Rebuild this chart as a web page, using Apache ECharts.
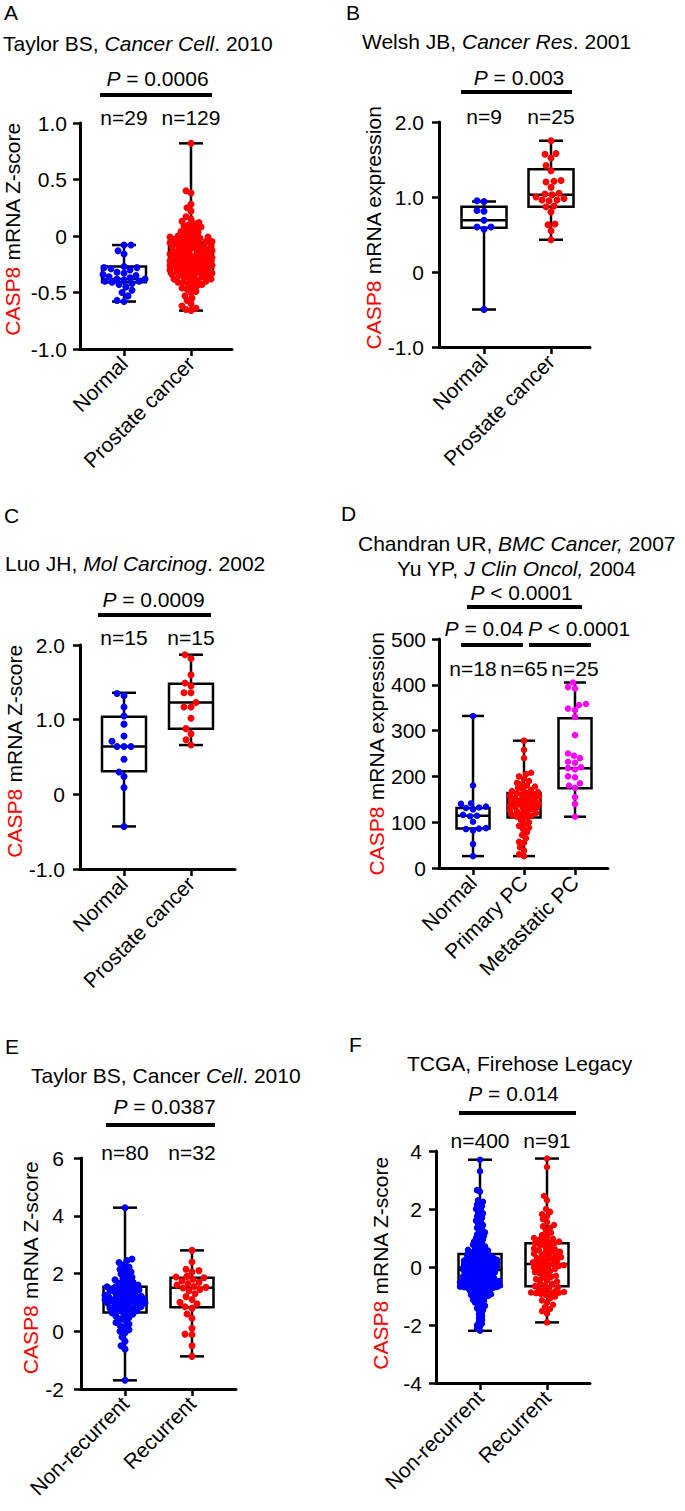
<!DOCTYPE html>
<html><head><meta charset="utf-8">
<script src="https://cdn.jsdelivr.net/npm/echarts@6/dist/echarts.min.js"></script>
<style>html,body{margin:0;padding:0;background:#fff}#c{width:685px;height:1511px}</style>
</head><body><div id="c"></div>
<script>
// ================= DATA =================
const catsA = ['Normal', 'Prostate cancer'];
const catsB = ['Normal', 'Prostate cancer'];
const catsC = ['Normal', 'Prostate cancer'];
const catsD = ['Normal', 'Primary PC', 'Metastatic PC'];
const catsE = ['Non-recurrent', 'Recurrent'];
const catsF = ['Non-recurrent', 'Recurrent'];

const titlesA = ['Taylor BS, {i|Cancer Cell}. 2010'];
const titlesB = ['Welsh JB, {i|Cancer Res}. 2001'];
const titlesC = ['Luo JH, {i|Mol Carcinog}. 2002'];
const titlesD = ['Chandran UR, {i|BMC Cancer,} 2007', 'Yu YP, {i|J Clin Oncol,} 2004'];
const titlesE = ['Taylor BS, Cancer {i|Cell}. 2010'];
const titlesF = ['TCGA, Firehose Legacy'];

const nA = ['n=29', 'n=129'];
const nB = ['n=9', 'n=25'];
const nC = ['n=15', 'n=15'];
const nD = ['n=18', 'n=65', 'n=25'];
const nE = ['n=80', 'n=32'];
const nF = ['n=400', 'n=91'];

const pA = ['= 0.0006'];
const pB = ['= 0.003'];
const pC = ['= 0.0009'];
const pD = ['< 0.0001', '= 0.04', '< 0.0001'];
const pE = ['= 0.0387'];
const pF = ['= 0.014'];

const yNameZ = '{r|CASP8} mRNA Z-score';
const yNameExpr = '{r|CASP8} mRNA expression';

// box stats: [min, Q1, median, Q3, max]
const boxA = [[-0.58, -0.41, -0.38, -0.27, -0.08], [-0.66, -0.33, -0.20, -0.06, 0.82]];
const boxB = [[-0.50, 0.59, 0.69, 0.87, 0.94], [0.43, 0.87, 1.03, 1.37, 1.75]];
const boxC = [[-0.43, 0.31, 0.64, 1.04, 1.36], [0.66, 0.88, 1.23, 1.48, 1.87]];
const boxD = [[26, 86, 114, 131, 332], [26, 110, 140, 164, 278], [112, 174, 218, 327, 405]];
const boxE = [[-1.70, 0.65, 1.10, 1.54, 4.28], [-0.87, 0.83, 1.51, 1.85, 2.80]];
const boxF = [[-2.20, -0.66, -0.10, 0.45, 3.70], [-1.91, -0.66, 0.10, 0.82, 3.74]];

const aNormal = [-0.08,-0.08,-0.13,-0.16,-0.27,-0.28,-0.28,-0.29,-0.30,-0.32,-0.33,-0.34,-0.35,-0.36,-0.37,-0.38,-0.38,-0.39,-0.40,-0.40,-0.41,-0.42,-0.43,-0.45,-0.48,-0.50,-0.53,-0.57,-0.58];
const aCancer = [-0.66,-0.65,-0.64,-0.62,-0.60,-0.57,-0.55,-0.53,-0.50,-0.49,-0.47,-0.46,-0.45,-0.44,-0.43,-0.42,-0.41,-0.41,-0.40,-0.40,-0.39,-0.38,-0.38,-0.37,-0.36,-0.36,-0.35,-0.35,-0.34,-0.34,-0.33,-0.33,
 -0.32,-0.32,-0.31,-0.31,-0.30,-0.30,-0.29,-0.29,-0.28,-0.28,-0.27,-0.27,-0.26,-0.26,-0.26,-0.25,-0.25,-0.24,-0.24,-0.24,-0.23,-0.23,-0.23,-0.22,-0.22,-0.22,-0.21,-0.21,-0.21,-0.20,-0.20,-0.20,
 -0.19,-0.19,-0.19,-0.18,-0.18,-0.18,-0.17,-0.17,-0.17,-0.16,-0.16,-0.15,-0.15,-0.14,-0.14,-0.13,-0.13,-0.12,-0.12,-0.11,-0.11,-0.10,-0.10,-0.10,-0.09,-0.09,-0.08,-0.08,-0.07,-0.07,-0.06,-0.06,
 -0.05,-0.05,-0.04,-0.04,-0.03,-0.03,-0.02,-0.02,-0.01,-0.01,0.00,0.00,0.01,0.02,0.03,0.04,0.05,0.06,0.07,0.08,0.09,0.10,0.11,0.12,0.13,0.15,0.17,0.22,0.25,0.28,0.38,0.40,0.82];

const bNormal = [0.95,0.94,0.82,0.81,0.69,0.60,0.60,0.57,-0.50];
const bCancer = [1.75,1.58,1.57,1.52,1.42,1.35,1.22,1.21,1.20,1.13,1.05,1.04,1.03,1.00,0.98,0.96,0.96,0.95,0.88,0.87,0.80,0.64,0.63,0.55,0.43];

const cNormal = [1.32,1.35,1.17,1.05,0.94,0.78,0.71,0.64,0.64,0.64,0.47,0.30,0.24,0.09,-0.43];
const cCancer = [1.87,1.82,1.60,1.49,1.45,1.36,1.36,1.23,1.17,1.17,1.02,0.88,0.81,0.73,0.66];

const dNormal = [332,180,141,140,134,132,131,128,116,114,113,101,87,86,85,82,52,26];
const dPrimary = [26,30,38,45,55,57,65,72,78,85,88,92,96,100,105,110,
 112,114,116,118,120,122,124,126,128,130,132,134,135,137,138,140,
 141,142,144,145,147,148,150,151,153,155,156,158,160,161,163,164,
 166,168,170,172,175,178,180,183,186,190,195,200,205,208,240,258,278];
const dMeta = [405,395,392,358,356,348,345,330,290,250,245,240,232,230,220,218,215,200,198,185,180,175,155,140,112];

const eNonRec = [-1.70,-0.62,-0.50,-0.35,-0.20,-0.05,0.00,0.05,0.15,0.20,0.25,0.30,0.38,0.42,0.48,0.52,0.56,0.60,0.64,0.67,
 0.70,0.72,0.75,0.78,0.80,0.82,0.85,0.87,0.90,0.92,0.94,0.96,0.98,1.00,1.02,1.04,1.05,1.07,1.08,1.10,
 1.12,1.14,1.15,1.17,1.18,1.20,1.22,1.25,1.28,1.30,1.33,1.35,1.38,1.40,1.43,1.45,1.48,1.50,1.52,1.54,
 1.57,1.60,1.63,1.66,1.70,1.74,1.78,1.82,1.87,1.92,1.98,2.05,2.10,2.15,2.22,2.30,2.38,2.45,2.50,4.28];
const eRec = [2.80,2.40,2.15,2.10,2.05,1.90,1.88,1.85,1.80,1.75,1.70,1.65,1.60,1.55,1.52,1.50,1.45,1.40,1.30,1.20,1.10,1.00,0.95,0.85,0.80,0.60,0.45,0.10,-0.10,-0.12,-0.50,-0.87];

const fNonRec = [-2.20,-2.12,-2.05,-2.00,-1.95,-1.88,-1.82,-1.76,-1.70,-1.64,
 -1.58,-1.52,-1.47,-1.42,-1.38,-1.34,-1.30,-1.26,-1.22,-1.19,
 -1.16,-1.13,-1.10,-1.07,-1.04,-1.02,-1.00,-0.98,-0.96,-0.94,
 -0.92,-0.90,-0.88,-0.86,-0.84,-0.82,-0.80,-0.78,-0.76,-0.75,
 -0.74,-0.73,-0.72,-0.71,-0.70,-0.69,-0.68,-0.67,-0.67,-0.66,
 -0.65,-0.64,-0.63,-0.62,-0.61,-0.60,-0.59,-0.58,-0.57,-0.56,
 -0.55,-0.54,-0.53,-0.52,-0.51,-0.50,-0.49,-0.48,-0.47,-0.46,
 -0.45,-0.44,-0.43,-0.42,-0.41,-0.40,-0.38,-0.37,-0.36,-0.35,
 -0.33,-0.32,-0.31,-0.29,-0.28,-0.27,-0.25,-0.24,-0.23,-0.21,
 -0.20,-0.19,-0.18,-0.17,-0.16,-0.15,-0.14,-0.13,-0.12,-0.10,
 -0.09,-0.08,-0.07,-0.06,-0.05,-0.04,-0.03,-0.02,-0.01,0.00,
 0.01,0.02,0.03,0.04,0.05,0.06,0.07,0.08,0.09,0.10,
 0.11,0.12,0.13,0.14,0.15,0.16,0.17,0.18,0.19,0.20,
 0.21,0.22,0.23,0.24,0.25,0.26,0.27,0.28,0.29,0.30,
 0.32,0.33,0.35,0.36,0.38,0.39,0.41,0.42,0.44,0.45,
 0.47,0.49,0.51,0.53,0.55,0.57,0.59,0.62,0.65,0.68,
 0.71,0.74,0.77,0.80,0.84,0.88,0.92,0.96,1.00,1.04,
 1.08,1.12,1.16,1.20,1.25,1.30,1.35,1.40,1.45,1.50,
 1.55,1.60,1.65,1.70,1.75,1.80,1.85,1.90,1.95,2.00,
 2.05,2.10,2.15,2.20,2.25,2.30,2.60,2.65,3.30,3.70];
const fRec = [-1.91,-1.60,-1.52,-1.45,-1.38,-1.30,-1.22,-1.15,-1.08,-1.02,-0.96,-0.93,-0.91,-0.90,-0.89,-0.88,-0.86,-0.84,-0.80,-0.76,-0.72,-0.69,-0.66,
 -0.62,-0.58,-0.54,-0.50,-0.46,-0.42,-0.38,-0.34,-0.30,-0.26,-0.22,-0.18,-0.14,-0.10,-0.07,-0.04,-0.01,0.02,0.04,0.06,0.08,0.10,
 0.13,0.16,0.19,0.22,0.25,0.28,0.31,0.34,0.37,0.40,0.43,0.46,0.49,0.52,0.55,0.58,0.61,0.64,0.68,0.72,0.76,0.80,0.82,
 0.85,0.88,0.91,0.94,0.97,1.00,1.05,1.10,1.18,1.25,1.35,1.40,1.45,1.55,1.65,1.75,1.82,1.90,2.00,2.30,2.45,3.45,3.74];

// ================= STYLE / LAYOUT =================
const FONT = '"Liberation Sans", Arial, Helvetica, sans-serif';
const FS = 21;
const BLUE = '#0000ff', RED = '#ff0000', MAG = '#ff00ff';

const panels = [
 { letter:'A', cats:catsA, groups:[aNormal,aCancer], colors:[BLUE,RED], box:boxA, n:nA, p:pA, titles:titlesA, yName:yNameZ,
   L:{left:80, top:123, width:152, height:226, xMin:-0.657, xMax:1.612, yMin:-1, yMax:1, yInt:0.5, dec:1, lblMargin:13,
      nameGap:57, nameShift:7, boxW:44, capW:24, dot:7, overlap:[0.95,0.7],
      letterPos:[4,0], titlePos:[[3,31]],
      nDy:-6, pTexts:[{x:0.5,dx:0,dy:-45}], bars:[{x1:0,d1:-24,x2:1,d2:21,dy:-28}] } },
 { letter:'B', cats:catsB, groups:[bNormal,bCancer], colors:[BLUE,RED], box:boxB, n:nB, p:pB, titles:titlesB, yName:yNameExpr,
   L:{left:439, top:122, width:151, height:225, xMin:-0.672, xMax:1.582, yMin:-1, yMax:2, yInt:1, dec:1, lblMargin:15,
      nameGap:51, nameShift:7, boxW:45, capW:24, dot:7, overlap:[0.95,0.95],
      letterPos:[346,0], titlePos:[[362,29]],
      nDy:-6, pTexts:[{x:0.5,dx:1.5,dy:-45}], bars:[{x1:0,d1:-23,x2:1,d2:21,dy:-30}] } },
 { letter:'C', cats:catsC, groups:[cNormal,cCancer], colors:[BLUE,RED], box:boxC, n:nC, p:pC, titles:titlesC, yName:yNameZ,
   L:{left:80, top:645, width:155, height:224, xMin:-0.657, xMax:1.657, yMin:-1, yMax:2, yInt:1, dec:1, lblMargin:15,
      nameGap:53, nameShift:6, boxW:44, capW:24, dot:7, overlap:[0.95,0.95],
      letterPos:[4,503], titlePos:[[5,551]],
      nDy:-8, pTexts:[{x:0.5,dx:-4,dy:-46}], bars:[{x1:0,d1:-26,x2:1,d2:20,dy:-30}] } },
 { letter:'D', cats:catsD, groups:[dNormal,dPrimary,dMeta], colors:[BLUE,RED,MAG], box:boxD, n:nD, p:pD, titles:titlesD, yName:yNameExpr,
   L:{left:439, top:639, width:169, height:229, xMin:-0.667, xMax:2.647, yMin:0, yMax:500, yInt:100, dec:0, lblMargin:13,
      nameGap:51, nameShift:0, boxW:33, capW:22, dot:6.5, overlap:[0.95,0.75,0.95],
      letterPos:[341,501], titlePos:[[358,531],[397,556]],
      nDy:29, pTexts:[{x:1,dx:-2.5,dy:-47},{x:0,dx:11,dy:-11},{x:2,dx:4,dy:-11}],
      bars:[{x1:0,d1:-6,x2:2,d2:7,dy:-32},{x1:0,d1:-12,x2:1,d2:-1,dy:6},{x1:1,d1:5,x2:2,d2:16,dy:6}] } },
 { letter:'E', cats:catsE, groups:[eNonRec,eRec], colors:[BLUE,RED], box:boxE, n:nE, p:pE, titles:titlesE, yName:yNameZ,
   L:{left:81, top:1158, width:155, height:231, xMin:-0.657, xMax:1.657, yMin:-2, yMax:6, yInt:2, dec:0, lblMargin:17,
      nameGap:33, nameShift:6, boxW:43, capW:24, dot:7, overlap:[0.7,0.9],
      letterPos:[5,1034], titlePos:[[31,1063]],
      nDy:-6, pTexts:[{x:0.5,dx:6,dy:-52}], bars:[{x1:0,d1:-19,x2:1,d2:23,dy:-33}] } },
 { letter:'F', cats:catsF, groups:[fNonRec,fRec], colors:[BLUE,RED], box:boxF, n:nF, p:pF, titles:titlesF, yName:yNameZ,
   L:{left:436, top:1151, width:154, height:232, xMin:-0.657, xMax:1.642, yMin:-4, yMax:4, yInt:2, dec:0, lblMargin:14,
      nameGap:45, nameShift:4, boxW:43, capW:24, dot:6.5, overlap:[0.5,0.75],
      letterPos:[349,1032], titlePos:[[407,1051]],
      nDy:-11, pTexts:[{x:0.5,dx:0,dy:-58}], bars:[{x1:0,d1:-21,x2:1,d2:29,dy:-38}] } }
];

// deterministic beeswarm layout (pixel offsets)
function swarm(vals, pxPerY, diam, maxHalf, overlap) {
  const idx = vals.map((v, i) => i).sort((a, b) => vals[a] - vals[b]);
  const placed = [];
  const out = new Array(vals.length).fill(0);
  const minD = diam * overlap;
  const K = 2 * Math.floor(maxHalf);
  for (const i of idx) {
    const y = vals[i] * pxPerY;
    let best = 0, bestD = -1;
    for (let k = 0; k <= K; k++) {
      const off = (k % 2 ? -1 : 1) * Math.ceil(k / 2);
      let m = Infinity;
      for (const q of placed) {
        const dy = q[1] - y;
        if (Math.abs(dy) < minD) {
          const d = Math.hypot(q[0] - off, dy);
          if (d < m) m = d;
        }
      }
      if (m >= minD) { best = off; bestD = m; break; }
      if (m > bestD) { bestD = m; best = off; }
    }
    placed.push([best, y]);
    out[i] = best;
  }
  return out;
}

const italicRich = { i: { fontStyle: 'italic', fontSize: FS, fontFamily: FONT, color: '#000', lineHeight: 24 } };

const option = { animation: false, backgroundColor: '#fff', title: [], grid: [], xAxis: [], yAxis: [], series: [] };

panels.forEach((P, gi) => {
  const L = P.L;
  option.grid.push({ left: L.left, top: L.top, width: L.width, height: L.height });
  const ticks = P.cats.map((_, k) => k);
  option.xAxis.push({
    type: 'value', gridIndex: gi, min: L.xMin, max: L.xMax,
    axisLine: { show: true, onZero: false, lineStyle: { color: '#000', width: 3 } },
    axisTick: { show: true, customValues: ticks, length: 7, lineStyle: { color: '#000', width: 2.5 } },
    axisLabel: { show: true, customValues: ticks, formatter: v => P.cats[Math.round(v)] || '', rotate: 45, margin: 11,
      fontSize: FS, fontFamily: FONT, color: '#000' },
    splitLine: { show: false }
  });
  option.yAxis.push({
    type: 'value', gridIndex: gi, min: L.yMin, max: L.yMax, interval: L.yInt,
    axisLine: { show: true, onZero: false, lineStyle: { color: '#000', width: 3 } },
    axisTick: { show: true, length: 7, lineStyle: { color: '#000', width: 2.5 } },
    axisLabel: { margin: L.lblMargin, fontSize: FS, fontFamily: FONT, color: '#000',
      formatter: v => (v === 0 ? '0' : v.toFixed(L.dec)) },
    splitLine: { show: false },
    name: P.yName, nameLocation: 'middle', nameRotate: 90, nameGap: L.nameGap,
    nameTextStyle: { fontSize: FS, fontFamily: FONT, color: '#000', padding: [0, 0, 0, 2 * L.nameShift],
      rich: { r: { color: RED, fontSize: FS, fontFamily: FONT } } }
  });

  // panel letter & titles
  option.title.push({ text: P.letter, left: L.letterPos[0], top: L.letterPos[1], padding: 0,
    textStyle: { fontSize: FS, fontWeight: 'normal', fontFamily: FONT, color: '#000', lineHeight: 24 } });
  P.titles.forEach((t, ti) => {
    option.title.push({ text: t, left: L.titlePos[ti][0], top: L.titlePos[ti][1], padding: 0,
      textStyle: { fontSize: FS, fontWeight: 'normal', fontFamily: FONT, color: '#000', lineHeight: 24, rich: italicRich } });
  });

  // box plots
  option.series.push({
    type: 'custom', xAxisIndex: gi, yAxisIndex: gi, z: 2, clip: false,
    data: P.box.map((b, k) => [k, b[0], b[1], b[2], b[3], b[4]]),
    renderItem: (params, api) => {
      const k = api.value(0);
      const pMin = api.coord([k, api.value(1)]), pQ1 = api.coord([k, api.value(2)]), pMed = api.coord([k, api.value(3)]),
            pQ3 = api.coord([k, api.value(4)]), pMax = api.coord([k, api.value(5)]);
      const cx = pMed[0], hw = L.boxW / 2, hc = L.capW / 2;
      const st = { stroke: '#000', lineWidth: 2.5, fill: null };
      return { type: 'group', children: [
        { type: 'line', shape: { x1: cx, y1: pQ3[1], x2: cx, y2: pMax[1] }, style: st },
        { type: 'line', shape: { x1: cx, y1: pQ1[1], x2: cx, y2: pMin[1] }, style: st },
        { type: 'line', shape: { x1: cx - hc, y1: pMax[1], x2: cx + hc, y2: pMax[1] }, style: st },
        { type: 'line', shape: { x1: cx - hc, y1: pMin[1], x2: cx + hc, y2: pMin[1] }, style: st },
        { type: 'rect', shape: { x: cx - hw, y: pQ3[1], width: L.boxW, height: pQ1[1] - pQ3[1] }, style: { stroke: '#000', lineWidth: 2.5, fill: 'none' } },
        { type: 'line', shape: { x1: cx - hw, y1: pMed[1], x2: cx + hw, y2: pMed[1] }, style: st }
      ] };
    }
  });

  // points
  const pxPerX = L.width / (L.xMax - L.xMin);
  const pxPerY = L.height / (L.yMax - L.yMin);
  P.groups.forEach((vals, k) => {
    const off = swarm(vals, pxPerY, L.dot, L.boxW / 2 - 1, L.overlap[k]);
    option.series.push({
      type: 'scatter', xAxisIndex: gi, yAxisIndex: gi, z: 3, symbol: 'circle', symbolSize: L.dot,
      itemStyle: { color: P.colors[k], opacity: 1 },
      data: vals.map((v, j) => [k + off[j] / pxPerX, v])
    });
  });

  // annotations (n labels, P values, significance bars)
  const items = [];
  P.n.forEach((t, k) => items.push({ kind: 'text', x: k, dx: 0, dy: L.nDy, text: t }));
  P.p.forEach((t, k) => items.push({ kind: 'text', x: L.pTexts[k].x, dx: L.pTexts[k].dx, dy: L.pTexts[k].dy, text: '{i|P} ' + t }));
  L.bars.forEach(b => items.push(Object.assign({ kind: 'bar' }, b)));
  option.series.push({
    type: 'custom', xAxisIndex: gi, yAxisIndex: gi, z: 4, clip: false, silent: true,
    data: items.map((_, i) => [0, L.yMax, i]),
    renderItem: (params, api) => {
      const it = items[params.dataIndex];
      const top = api.coord([L.xMin, L.yMax])[1];
      if (it.kind === 'bar') {
        const x1 = api.coord([it.x1, L.yMax])[0] + it.d1;
        const x2 = api.coord([it.x2, L.yMax])[0] + it.d2;
        return { type: 'line', shape: { x1, y1: top + it.dy, x2, y2: top + it.dy }, style: { stroke: '#000', lineWidth: 4 } };
      }
      const x = api.coord([it.x, L.yMax])[0] + it.dx;
      return { type: 'text', style: { x, y: top + it.dy, text: it.text, fontSize: FS, fontFamily: FONT, fill: '#000',
        align: 'center', verticalAlign: 'middle',
        rich: { i: { fontStyle: 'italic', fontSize: FS, fontFamily: FONT, fill: '#000' } } } };
    }
  });
});

const chart = echarts.init(document.getElementById('c'), null, { renderer: 'svg', width: 685, height: 1511 });
chart.setOption(option);
</script>
</body></html>
